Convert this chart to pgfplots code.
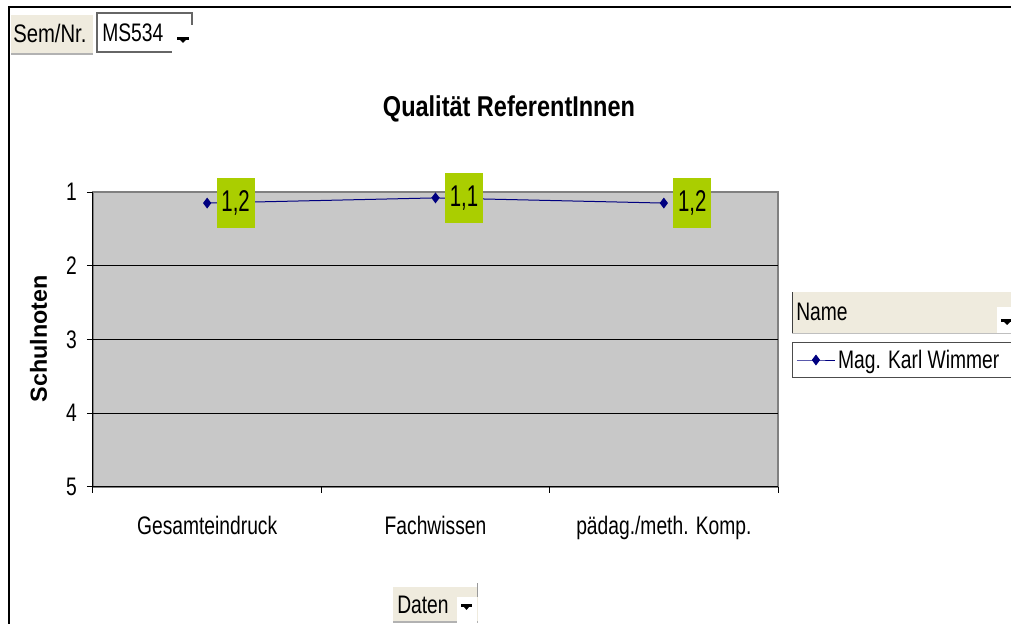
\documentclass[border=0pt]{standalone}
\usepackage{pgfplots}
\pgfplotsset{compat=1.18}
\usepackage{fontspec}
\setmainfont{Liberation Sans}
\usepackage{graphicx}
\definecolor{btn}{RGB}{239,235,222}
\definecolor{plotbg}{RGB}{200,200,200}
\definecolor{lblgreen}{RGB}{170,206,0}
\definecolor{navy}{RGB}{0,0,128}
\definecolor{bordergray}{RGB}{128,128,128}
\newcommand{\cond}[2][0.76]{\scalebox{#1}[1]{#2}}
\newcommand{\fs}{\fontsize{19}{22}\selectfont}
\begin{document}
\begin{tikzpicture}[x=0.75pt,y=0.75pt]
\useasboundingbox (0,0) rectangle (1011,624);
\fill[white] (0,0) rectangle (1011,624);
% outer frame
\draw[black, line width=1.5pt] (8,617) -- (1013,617);
\draw[black, line width=1.5pt] (9,617.75) -- (9,-2);
% Sem/Nr. button
\fill[btn] (11,570) rectangle (93,609);
\draw[black!30, line width=1.2pt] (11,570) -- (93,570);
\node[anchor=west, font=\fs, inner sep=0pt] at (13,591) {\cond[0.8]{Sem/Nr.}};
% MS534 box
\fill[white] (97,572) rectangle (192,611);
\draw[black!60, line width=0.8pt] (97,572) rectangle (192,611);
\fill[white] (172,570) rectangle (194,599);
\node[anchor=west, font=\fs, inner sep=0pt] at (102,591) {\cond{MS534}};
\fill[black] (177,587) rectangle (189,584);
\fill[black] (180,584) -- (186,584) -- (183,581) -- cycle;
% Name button
\fill[btn] (792,290) rectangle (1011,332);
\draw[black!75, line width=0.8pt] (792.5,290) -- (792.5,332);
\draw[black!25, line width=1pt] (792,290.5) -- (1011,290.5);
\node[anchor=west, font=\fs, inner sep=0pt] at (796,312) {\cond{Name}};
\fill[white] (997,291) rectangle (1012,317);
\fill[black] (1001,305) rectangle (1013,302);
\fill[black] (1004,302) -- (1010,302) -- (1007,299) -- cycle;
% Daten button
\fill[btn] (393,2) rectangle (478,37);
\draw[black!30, line width=1.2pt] (393,2) -- (478,2);
\draw[black!40, line width=1pt] (477.5,27) -- (477.5,41);
\fill[white] (457,1) rectangle (477,27);
\node[anchor=west, font=\fs, inner sep=0pt] at (397,19) {\cond{Daten}};
\fill[black] (461,20) rectangle (472,17);
\fill[black] (464,17) -- (469,17) -- (466.5,14) -- cycle;
% title
\node[font=\bfseries\fontsize{21.5}{24}\selectfont, inner sep=0pt] at (509,515) {\cond[0.82]{Qualität ReferentInnen}};
\begin{axis}[
  at={(69.75pt,102.75pt)}, anchor=south west,
  scale only axis, width=513.75pt, height=221.25pt,
  xmin=-0.5, xmax=2.5, ymin=1, ymax=5, y dir=reverse,
  axis x line*=bottom, axis y line*=left,
  axis line style={black, line width=0.75pt, -},
  axis background/.style={fill=plotbg, draw=bordergray, line width=1.1pt},
  xtick={-0.5,0.5,1.5,2.5},
  x tick label as interval,
  xticklabels={\cond{Gesamteindruck},\cond{Fachwissen},\cond{pädag./meth. Komp.}},
  xticklabel style={font=\fs, anchor=base, inner sep=0pt, yshift=-31pt},
  ytick={1,2,3,4,5},
  yticklabels={\cond{1},\cond{2},\cond{3},\cond{4},\cond{5}},
  yticklabel style={font=\fs, anchor=east, inner sep=0pt, xshift=-7.5pt},
  extra y ticks={2,3,4}, extra y tick labels={},
  extra y tick style={grid=major, major tick length=0pt},
  major grid style={black, line width=0.75pt},
  tick align=outside, major tick length=4.5pt,
  tick style={black, line width=0.75pt},
  ylabel={Schulnoten},
  ylabel style={at={(axis description cs:-0.0796,0.503)}, anchor=center, font=\bfseries\fontsize{17.5}{20}\selectfont},
  legend style={at={(1.0204,0.4305)}, anchor=west, draw=black!70, line width=0.75pt, fill=white, font=\fs, inner xsep=3pt, inner ysep=3.5pt},
  legend cell align=left,
  legend image code/.code={\draw[mark repeat=2,mark phase=2,#1] plot coordinates {(0pt,0pt) (14.25pt,0pt) (28.5pt,0pt)};},
  clip=false,
]
\addplot[navy, line width=0.75pt, mark=diamond*, mark size=3.5pt, mark options={solid, fill=navy},
  nodes near coords={\cond[0.68]{\pgfplotspointmeta}}, point meta=explicit symbolic,
  every node near coord/.style={anchor=west, xshift=6.75pt, fill=lblgreen, inner sep=0pt, minimum width=28.5pt, minimum height=37.5pt, font=\fontsize{22.5}{26}\selectfont, text=black}]
coordinates {(0,1.15) [1,2] (1,1.08) [1,1] (2,1.15) [1,2]};
\addlegendentry{\cond{Mag. Karl Wimmer}\hspace*{30pt}}
\end{axis}
\end{tikzpicture}
\end{document}
